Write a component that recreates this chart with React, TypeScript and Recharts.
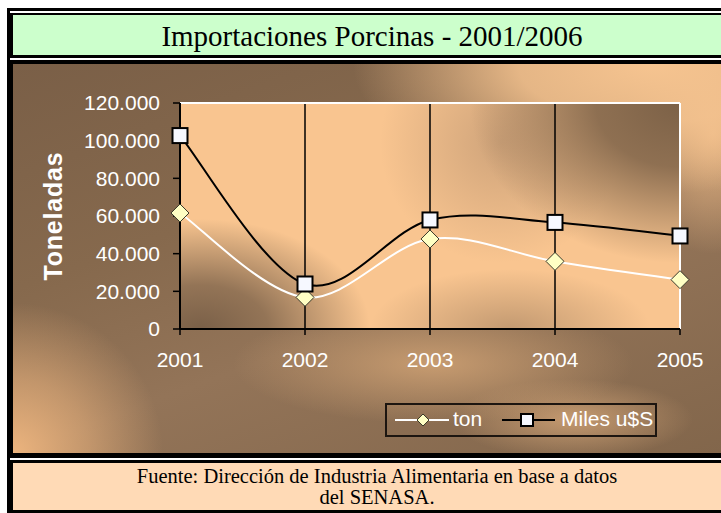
import { LineChart, Line, XAxis, YAxis, CartesianGrid, ReferenceLine } from 'recharts';

const years = ['2001', '2002', '2003', '2004', '2005'];
const ton = [61600, 16800, 47800, 35900, 26200];
const milesUSD = [102700, 23900, 57900, 56600, 49400];
const yTicks = [0, 20000, 40000, 60000, 80000, 100000, 120000];

const data = years.map((year, i) => ({ year, ton: ton[i], miles: milesUSD[i] }));

const sans = '"Liberation Sans", Arial, sans-serif';
const serif = '"Liberation Serif", "Times New Roman", serif';

const fmt = (v: number) => String(v).replace(/\B(?=(\d{3})+(?!\d))/g, '.');

// Excel-style smoothed line (Catmull-Rom, tension 1/6)
function excelSmooth(context: any) {
  let pts: number[][] = [];
  return {
    areaStart() {},
    areaEnd() {},
    lineStart() {
      pts = [];
    },
    point(x: number, y: number) {
      pts.push([+x, +y]);
    },
    lineEnd() {
      if (!pts.length) return;
      context.moveTo(pts[0][0], pts[0][1]);
      for (let i = 0; i < pts.length - 1; i++) {
        const p0 = pts[Math.max(i - 1, 0)];
        const p1 = pts[i];
        const p2 = pts[i + 1];
        const p3 = pts[Math.min(i + 2, pts.length - 1)];
        context.bezierCurveTo(
          p1[0] + (p2[0] - p0[0]) / 6,
          p1[1] + (p2[1] - p0[1]) / 6,
          p2[0] - (p3[0] - p1[0]) / 6,
          p2[1] - (p3[1] - p1[1]) / 6,
          p2[0],
          p2[1],
        );
      }
    },
  };
}

const Diamond = ({ cx, cy, half }: any) => (
  <polygon
    points={`${cx},${cy - half} ${cx + half},${cy} ${cx},${cy + half} ${cx - half},${cy}`}
    fill="#ffffc4"
    stroke="#3a3a2a"
    strokeWidth={1}
  />
);

const Square = ({ cx, cy, side }: any) => (
  <rect x={cx - side / 2} y={cy - side / 2} width={side} height={side} fill="#f6f8ff" stroke="#000" strokeWidth={2} />
);

const LegendBox = () => (
  <div
    style={{
      position: 'absolute',
      left: 372,
      top: 339,
      width: 272,
      height: 34,
      boxSizing: 'border-box',
      border: '2px solid #1c1510',
      fontFamily: sans,
      fontSize: 21,
      color: '#fff',
    }}
  >
    <svg width={272} height={30} style={{ position: 'absolute', left: 0, top: 0 }}>
      <line x1={8} y1={15} x2={62} y2={15} stroke="#fff" strokeWidth={2} />
      <Diamond cx={36} cy={15} half={6} />
      <line x1={115} y1={15} x2={168} y2={15} stroke="#000" strokeWidth={2} />
      <Square cx={140} cy={15} side={12} />
    </svg>
    <span style={{ position: 'absolute', left: 66, top: 2, lineHeight: '24px' }}>ton</span>
    <span style={{ position: 'absolute', left: 174, top: 2, lineHeight: '24px' }}>Miles u$S</span>
  </div>
);

const chartBg = [
  'radial-gradient(ellipse 300px 130px at 640px 0px, rgba(246,196,144,1) 0%, rgba(246,196,144,0.85) 45%, rgba(246,196,144,0) 100%)',
  'radial-gradient(ellipse 90px 120px at 700px 70px, rgba(240,188,136,0.9) 0%, rgba(240,188,136,0) 100%)',
  'radial-gradient(ellipse 150px 150px at 0px 389px, rgba(236,180,126,1) 0%, rgba(236,180,126,0.55) 50%, rgba(236,180,126,0) 100%)',
  'radial-gradient(ellipse 200px 60px at 420px 300px, rgba(205,160,115,0.9) 0%, rgba(205,160,115,0) 100%)',
  'radial-gradient(ellipse 120px 40px at 560px 355px, rgba(212,166,120,0.8) 0%, rgba(212,166,120,0) 100%)',
  'linear-gradient(160deg, #7a5f47 0%, #86694d 35%, #937458 60%, #82664b 100%)',
].join(',');

const plotBg = [
  'radial-gradient(ellipse 210px 160px at 500px 0px, rgba(124,97,71,1) 0%, rgba(124,97,71,0.85) 40%, rgba(124,97,71,0) 100%)',
  'radial-gradient(ellipse 170px 110px at 20px 226px, rgba(122,96,72,1) 0%, rgba(122,96,72,0.8) 40%, rgba(122,96,72,0) 100%)',
  'radial-gradient(ellipse 140px 60px at 330px 226px, rgba(150,118,88,0.55) 0%, rgba(150,118,88,0) 100%)',
  'radial-gradient(ellipse 120px 120px at 320px 40px, rgba(180,142,108,0.6) 0%, rgba(180,142,108,0) 100%)',
  '#f9c590',
].join(',');

export default function App() {
  return (
    <div style={{ position: 'absolute', left: 0, top: 0, width: 721, height: 513, background: '#fff', overflow: 'hidden' }}>
      <div style={{ position: 'absolute', left: 7, top: 8, width: 714, height: 505, background: '#000' }} />
      <div style={{ position: 'absolute', left: 10, top: 11, width: 711, height: 2, background: '#fff' }} />
      <div
        style={{
          position: 'absolute',
          left: 13,
          top: 15,
          width: 708,
          height: 40,
          background: '#ccffcc',
          fontFamily: serif,
          fontSize: 29,
          lineHeight: '42px',
          textAlign: 'center',
          paddingLeft: 10,
          boxSizing: 'border-box',
          color: '#000',
        }}
      >
        Importaciones Porcinas - 2001/2006
      </div>
      <div style={{ position: 'absolute', left: 10, top: 58, width: 711, height: 2, background: '#fff' }} />

      <div style={{ position: 'absolute', left: 13, top: 64, width: 708, height: 389, background: chartBg }}>
        <div style={{ position: 'absolute', left: 167, top: 39, width: 500, height: 226, background: plotBg }} />
        <LineChart
          width={708}
          height={389}
          data={data}
          margin={{ top: 39, right: 41, bottom: 94, left: 67 }}
          style={{ position: 'absolute', left: 0, top: 0 }}
        >
          <CartesianGrid horizontal={false} stroke="#000" strokeWidth={1.5} strokeOpacity={1} />
          <ReferenceLine y={120000} stroke="#fff" strokeWidth={2} />
          <ReferenceLine x="2005" stroke="#fff" strokeWidth={2} />
          <XAxis
            dataKey="year"
            height={30}
            tick={{ fill: '#fff', fontSize: 21, fontFamily: sans }}
            tickLine={{ stroke: '#000', strokeWidth: 1.5 }}
            tickSize={6}
            tickMargin={17}
            axisLine={{ stroke: '#000', strokeWidth: 2 }}
          />
          <YAxis
            width={100}
            domain={[0, 120000]}
            ticks={yTicks}
            tickFormatter={fmt}
            interval={0}
            tick={{ fill: '#fff', fontSize: 21, fontFamily: sans }}
            tickLine={{ stroke: '#000', strokeWidth: 1.5 }}
            tickSize={7}
            tickMargin={13}
            axisLine={{ stroke: '#000', strokeWidth: 2 }}
            label={{
              value: 'Toneladas',
              angle: -90,
              position: 'insideLeft',
              offset: -27,
              style: {
                fill: '#fff',
                fontSize: 25,
                fontWeight: 'bold',
                fontFamily: sans,
                textAnchor: 'middle',
                letterSpacing: 0.8,
              },
            }}
          />
          <Line
            dataKey="ton"
            name="ton"
            type={excelSmooth as any}
            stroke="#fff"
            strokeWidth={2}
            dot={(p: any) => <Diamond key={`t${p.index}`} cx={p.cx} cy={p.cy} half={9} />}
            activeDot={false}
            isAnimationActive={false}
          />
          <Line
            dataKey="miles"
            name="Miles u$S"
            type={excelSmooth as any}
            stroke="#000"
            strokeWidth={2}
            dot={(p: any) => <Square key={`m${p.index}`} cx={p.cx} cy={p.cy} side={15} />}
            activeDot={false}
            isAnimationActive={false}
          />
        </LineChart>
        <LegendBox />
      </div>

      <div style={{ position: 'absolute', left: 10, top: 458, width: 711, height: 2, background: '#fff' }} />
      <div
        style={{
          position: 'absolute',
          left: 13,
          top: 463,
          width: 708,
          height: 47,
          background: '#ffdab6',
          fontFamily: serif,
          fontSize: 20.5,
          lineHeight: '21px',
          textAlign: 'center',
          paddingLeft: 20,
          paddingTop: 3,
          boxSizing: 'border-box',
          color: '#000',
        }}
      >
        Fuente: Dirección de Industria Alimentaria en base a datos
        <br />
        del SENASA.
      </div>
    </div>
  );
}
